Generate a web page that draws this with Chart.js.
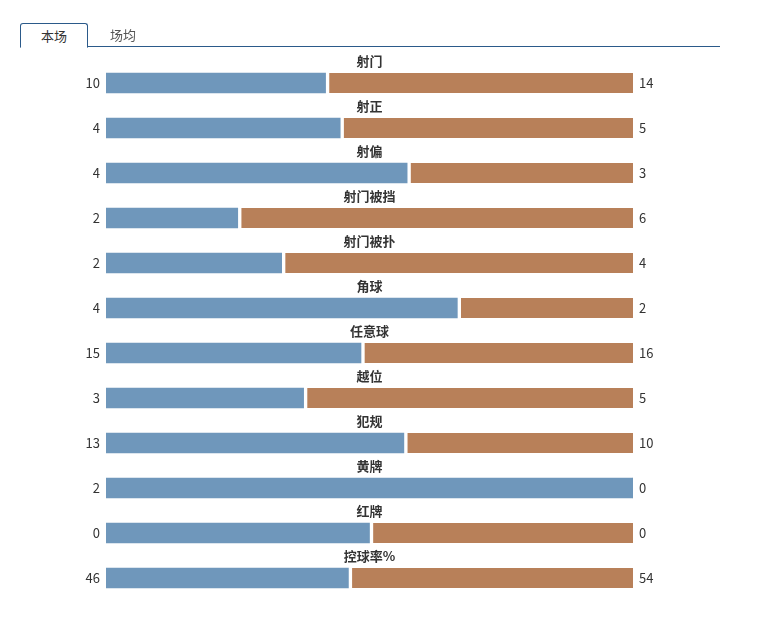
<!DOCTYPE html>
<html><head><meta charset="utf-8">
<script src="https://cdn.jsdelivr.net/npm/chart.js@4.4.0/dist/chart.umd.min.js"></script>
<style>
html,body{margin:0;padding:0;background:#fff;}
body{width:764px;height:627px;position:relative;overflow:hidden;font-family:"Noto Sans CJK SC","Noto Sans",sans-serif;}
#wrap{position:absolute;left:0;top:0;width:764px;height:627px;}
.line{position:absolute;left:20px;top:46px;width:700px;height:0;border-top:1px solid #2b5a8a;}
.tab1{position:absolute;left:20px;top:23px;width:68px;height:24px;border:1px solid #2b5a8a;border-bottom:1px solid #fff;border-radius:3px 3px 0 0;background:#fff;font-size:13px;color:#333;text-align:center;line-height:24px;box-sizing:border-box;height:25px;}
.tab2{position:absolute;left:110px;top:23px;font-size:13px;color:#555;line-height:24px;}
</style></head>
<body>
<div id="wrap"><canvas id="c" width="764" height="627"></canvas></div>
<div class="line"></div>
<div class="tab1">本场</div>
<div class="tab2">场均</div>
<script>
const categories = ["射门","射正","射偏","射门被挡","射门被扑","角球","任意球","越位","犯规","黄牌","红牌","控球率%"];
const homeValues = [10,4,4,2,2,4,15,3,13,2,0,46];
const awayValues = [14,5,3,6,4,2,16,5,10,0,0,54];

const homePct = homeValues.map((h,i)=>{const t=h+awayValues[i];return t===0?50:h/t*100;});
const awayPct = awayValues.map((a,i)=>{const t=homeValues[i]+a;return t===0?50:a/t*100;});

const labelPlugin = {
  id:'labels',
  afterDatasetsDraw(chart){
    const ctx = chart.ctx;
    const meta = chart.getDatasetMeta(0);
    const area = chart.chartArea;
    const cx = (area.left+area.right)/2;
    ctx.save();
    meta.data.forEach((bar,i)=>{
      const y = bar.y;
      ctx.fillStyle = '#333';
      ctx.font = 'bold 13px "Noto Sans CJK SC", sans-serif';
      ctx.textAlign = 'center';
      ctx.textBaseline = 'middle';
      ctx.fillText(categories[i], cx, y-22);
      ctx.font = '13px "Noto Sans CJK SC", sans-serif';
      ctx.textAlign = 'right';
      ctx.fillText(String(homeValues[i]), area.left-6, y);
      ctx.textAlign = 'left';
      ctx.fillText(String(awayValues[i]), area.right+6, y);
    });
    ctx.restore();
  }
};

new Chart(document.getElementById('c'), {
  type:'bar',
  data:{
    labels:categories,
    datasets:[
      {data:homePct, backgroundColor:'#6f97bb', borderWidth:0, barThickness:20},
      {data:awayPct, backgroundColor:'#b88059', borderColor:'#ffffff', borderSkipped:false,
       borderWidth:{left:4,top:0,right:0,bottom:0}, barThickness:20}
    ]
  },
  options:{
    indexAxis:'y',
    responsive:false,
    animation:false,
    devicePixelRatio:1,
    layout:{padding:{left:106,right:131,top:60.5,bottom:26.5}},
    plugins:{legend:{display:false},tooltip:{enabled:false}},
    scales:{
      x:{stacked:true,min:0,max:100,display:false},
      y:{stacked:true,display:false}
    }
  },
  plugins:[labelPlugin]
});
</script>
</body></html>
